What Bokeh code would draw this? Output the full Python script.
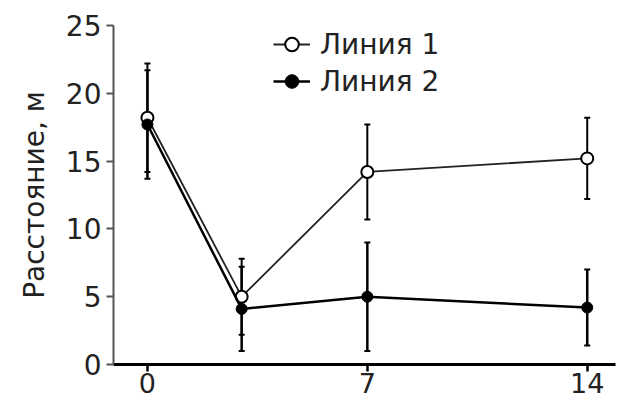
from bokeh.plotting import figure
from bokeh.models import ColumnDataSource, Whisker, TeeHead, FixedTicker, Range1d
from bokeh.embed import file_html
from bokeh.resources import INLINE

days = [0, 3, 7, 14]
line1 = [18.2, 5.0, 14.2, 15.2]
line1_err = [4.0, 2.8, 3.5, 3.0]
line2 = [17.7, 4.1, 5.0, 4.2]
line2_err = [4.0, 3.1, 4.0, 2.8]
x_ticks = [0, 7, 14]
y_ticks = [0, 5, 10, 15, 20, 25]
label1 = "Линия 1"
label2 = "Линия 2"
y_label = "Расстояние, м"

FONT = "DejaVu Sans"

src1 = ColumnDataSource(dict(x=days, y=line1,
                             lo=[v - e for v, e in zip(line1, line1_err)],
                             hi=[v + e for v, e in zip(line1, line1_err)]))
src2 = ColumnDataSource(dict(x=days, y=line2,
                             lo=[v - e for v, e in zip(line2, line2_err)],
                             hi=[v + e for v, e in zip(line2, line2_err)]))

p = figure(width=619, height=404, output_backend="svg", toolbar_location=None,
           x_range=Range1d(-1.08, 14.9), y_range=Range1d(0, 25),
           min_border_left=113, min_border_top=25, min_border_right=4, min_border_bottom=40)
p.background_fill_color = "white"
p.border_fill_color = "white"
p.outline_line_color = None
p.grid.visible = False

# error bars
for src, w in ((src1, 2), (src2, 2.5)):
    wk = Whisker(source=src, base="x", lower="lo", upper="hi",
                 line_color="black", line_width=w,
                 upper_head=TeeHead(size=6, line_color="black", line_width=2),
                 lower_head=TeeHead(size=6, line_color="black", line_width=2))
    p.add_layout(wk)

p.line("x", "y", source=src1, line_color="#222222", line_width=1.8, legend_label=label1)
p.scatter("x", "y", source=src1, size=12, marker="circle", fill_color="white",
          line_color="black", line_width=2, legend_label=label1)
p.line("x", "y", source=src2, line_color="black", line_width=2.5, legend_label=label2)
p.scatter("x", "y", source=src2, size=11, marker="circle", fill_color="black",
          line_color="black", line_width=1, legend_label=label2)

# axes
p.xaxis.ticker = FixedTicker(ticks=x_ticks)
p.yaxis.ticker = FixedTicker(ticks=y_ticks)
p.xaxis.minor_tick_line_color = None
p.yaxis.minor_tick_line_color = None
p.xaxis.axis_line_color = "black"
p.xaxis.axis_line_width = 3
p.xaxis.major_tick_line_color = "black"
p.xaxis.major_tick_line_width = 2.5
p.xaxis.major_tick_out = 7
p.xaxis.major_tick_in = 0
p.xaxis.major_label_standoff = 1
p.yaxis.axis_line_color = "#555555"
p.yaxis.axis_line_width = 2
p.yaxis.major_tick_line_color = "#555555"
p.yaxis.major_tick_line_width = 2
p.yaxis.major_tick_out = 7
p.yaxis.major_tick_in = 0
p.yaxis.major_label_standoff = 5
for ax in (p.xaxis, p.yaxis):
    ax.major_label_text_font = FONT
    ax.major_label_text_font_size = "28px"
    ax.major_label_text_color = "#222222"
p.xaxis.major_label_text_font_size = "27px"
p.yaxis.axis_label = y_label
p.yaxis.axis_label_text_font = FONT
p.yaxis.axis_label_text_font_size = "28px"
p.yaxis.axis_label_text_font_style = "normal"
p.yaxis.axis_label_text_color = "#222222"
p.yaxis.axis_label_standoff = 12

# legend
lg = p.legend[0]
lg.location = (160, 266)
lg.padding = 0
lg.margin = 0
lg.spacing = 3
lg.label_height = 34
lg.glyph_height = 34
lg.glyph_width = 37
lg.label_standoff = 10
lg.border_line_color = None
lg.background_fill_alpha = 0
lg.label_text_font = FONT
lg.label_text_font_size = "28px"
lg.label_text_color = "#222222"

open("out.html", "w").write(file_html(p, INLINE))
